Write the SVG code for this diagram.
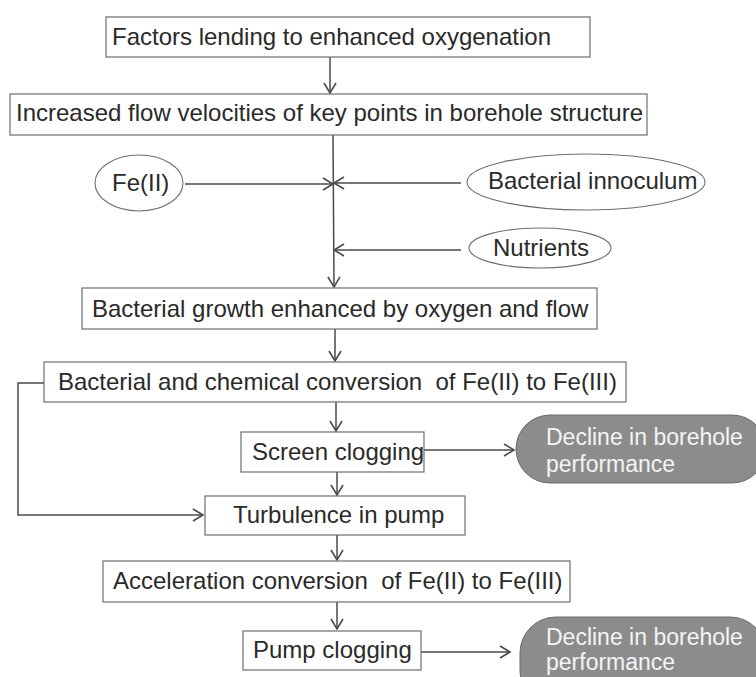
<svg xmlns="http://www.w3.org/2000/svg" width="756" height="677" viewBox="0 0 756 677">
<style>
.box{fill:#fff;stroke:#6e6e6e;stroke-width:1.2}
.ell{fill:#fff;stroke:#6e6e6e;stroke-width:1.1}
.pill{fill:#8c8c8c;stroke:#6a6a6a;stroke-width:1}
.t{font-family:"Liberation Sans",Arial,sans-serif;font-size:24px;fill:#2a2a2a;white-space:pre}
.w{font-family:"Liberation Sans",Arial,sans-serif;font-size:23px;fill:#f4f4f4}
.ln{fill:none;stroke:#4a4a4a;stroke-width:1.5}
</style>
<defs>
<marker id="ah" markerUnits="userSpaceOnUse" markerWidth="14" markerHeight="16" refX="11" refY="7" orient="auto" viewBox="0 0 14 14">
<path d="M1,1 L11,7 L1,13" fill="none" stroke="#4a4a4a" stroke-width="1.6"/>
</marker>
</defs>
<rect width="756" height="677" fill="#fff"/>
<g id="connectors">
<line class="ln" x1="330" y1="57" x2="330" y2="93" marker-end="url(#ah)"/>
<line class="ln" x1="333" y1="135" x2="334" y2="287" marker-end="url(#ah)"/>
<line class="ln" x1="185" y1="184" x2="333" y2="184" marker-end="url(#ah)"/>
<line class="ln" x1="461" y1="183" x2="334" y2="183" marker-end="url(#ah)"/>
<line class="ln" x1="461" y1="250" x2="334" y2="250" marker-end="url(#ah)"/>
<line class="ln" x1="335" y1="329" x2="335" y2="361" marker-end="url(#ah)"/>
<line class="ln" x1="336" y1="402" x2="336" y2="431" marker-end="url(#ah)"/>
<polyline class="ln" points="44,383 18,383 18,515 203,515" marker-end="url(#ah)"/>
<line class="ln" x1="424" y1="450" x2="514" y2="450" marker-end="url(#ah)"/>
<line class="ln" x1="337" y1="472" x2="337" y2="495" marker-end="url(#ah)"/>
<line class="ln" x1="337" y1="535" x2="337" y2="560" marker-end="url(#ah)"/>
<line class="ln" x1="337" y1="602" x2="337" y2="629" marker-end="url(#ah)"/>
<line class="ln" x1="421" y1="652" x2="510" y2="652" marker-end="url(#ah)"/>
</g>
<g id="n1"><rect class="box" x="106" y="17" width="484" height="40"/><text class="t" x="112" y="45">Factors lending to enhanced oxygenation</text></g>
<g id="n2"><rect class="box" x="10" y="94" width="637" height="41"/><text class="t" x="16" y="121">Increased flow velocities of key points in borehole structure</text></g>
<g id="n3"><ellipse class="ell" cx="139" cy="183" rx="44" ry="28"/><text class="t" x="112" y="191">Fe(II)</text></g>
<g id="n4"><ellipse class="ell" cx="586" cy="182" rx="119" ry="28"/><text class="t" x="488" y="189">Bacterial innoculum</text></g>
<g id="n5"><ellipse class="ell" cx="540" cy="248" rx="71" ry="20"/><text class="t" x="493" y="256">Nutrients</text></g>
<g id="n6"><rect class="box" x="82" y="288" width="515" height="41"/><text class="t" x="92" y="317">Bacterial growth enhanced by oxygen and flow</text></g>
<g id="n7"><rect class="box" x="44" y="362" width="582" height="40"/><text class="t" x="58" y="390" xml:space="preserve">Bacterial and chemical conversion  of Fe(II) to Fe(III)</text></g>
<g id="n8"><rect class="box" x="241" y="432" width="183" height="40"/><text class="t" x="252" y="460">Screen clogging</text></g>
<g id="n9"><rect class="pill" x="516" y="415" width="250" height="68" rx="34" ry="34"/><text class="w" x="546" y="445">Decline in borehole</text><text class="w" x="546" y="472">performance</text></g>
<g id="n10"><rect class="box" x="205" y="496" width="260" height="39"/><text class="t" x="233" y="523">Turbulence in pump</text></g>
<g id="n11"><rect class="box" x="103" y="561" width="467" height="41"/><text class="t" x="113" y="589" xml:space="preserve">Acceleration conversion  of Fe(II) to Fe(III)</text></g>
<g id="n12"><rect class="box" x="243" y="631" width="178" height="39"/><text class="t" x="253" y="658">Pump clogging</text></g>
<g id="n13"><rect class="pill" x="520" y="617" width="246" height="90" rx="36" ry="36"/><text class="w" x="546" y="645">Decline in borehole</text><text class="w" x="546" y="670">performance</text></g>
</svg>
